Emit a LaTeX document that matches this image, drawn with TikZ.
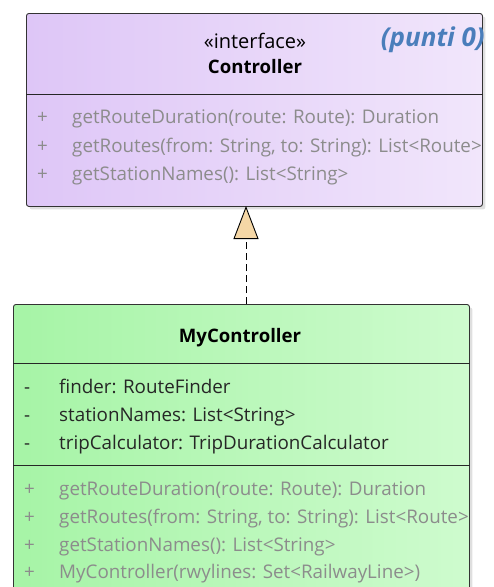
\documentclass[tikz,border=0pt]{standalone}
\usepackage{fontspec}
\setmainfont{Open Sans}
\usetikzlibrary{arrows.meta,shadows}

\definecolor{ifaceL}{HTML}{DEC6F7}
\definecolor{ifaceR}{HTML}{F1E6FB}
\definecolor{classL}{HTML}{A6F4A6}
\definecolor{classR}{HTML}{CEFBCE}
\definecolor{member}{HTML}{8C8C8C}
\definecolor{punti}{HTML}{4A7EBB}
\definecolor{realize}{HTML}{F5D7A6}

\tikzset{
  umlbox/.style={draw=black!80,line width=0.9pt,rounded corners=2.5pt,anchor=north west,
    inner sep=0pt,drop shadow={shadow xshift=3pt,shadow yshift=-3pt,opacity=0.25}},
  txt/.style={inner sep=0pt,anchor=base west,font=\fontsize{18.8}{21}\selectfont},
  vis/.style={txt,text=#1},
  title/.style={inner sep=0pt,font=\fontsize{18.6}{21}\selectfont},
  sep/.style={draw=black!85,line width=0.9pt}
}

\begin{document}
\begin{tikzpicture}[x=1pt,y=-1pt]
\useasboundingbox (0,0) rectangle (494,587);
\clip (0,0) rectangle (494,587);

% interface
\node [umlbox,left color=ifaceL,right color=ifaceR,minimum width=456pt,minimum height=193pt]
  (controller) at (26,13) {};
\node [title,font=\fontsize{20}{22}\selectfont] (stereo) at (255,41) {«interface»};
\node [title,font=\fontsize{18.6}{21}\selectfont\bfseries] (cname) at (255,67) {Controller};
\node [inner sep=0pt,anchor=east,text=punti,font=\fontsize{26}{28}\selectfont\bfseries\itshape]
  (punti) at (485,40) {(punti 0)};
\draw [sep] (controller.west |- 0,94) -- (controller.east |- 0,94);
\node [vis=member] (c1) at (37,123) {+};
\node [vis=member] (m1) at (72,123) {getRouteDuration(route: Route): Duration};
\node [vis=member] (c2) at (37,152) {+};
\node [vis=member] (m2) at (72,152) {getRoutes(from: String, to: String): List<Route>};
\node [vis=member] (c3) at (37,180) {+};
\node [vis=member] (m3) at (72,180) {getStationNames(): List<String>};

% implementing class
\node [umlbox,left color=classL,right color=classR,minimum width=456pt,minimum height=300pt]
  (mycontroller) at (13,304) {};
\node [title,font=\fontsize{18.6}{21}\selectfont\bfseries] (mname) at (240,338) {MyController};
\draw [sep] (mycontroller.west |- 0,363) -- (mycontroller.east |- 0,363);
\node [vis=black!85] (a1v) at (24,393) {-};
\node [vis=black!85] (a1) at (59,393) {finder: RouteFinder};
\node [vis=black!85] (a2v) at (24,421) {-};
\node [vis=black!85] (a2) at (59,421) {stationNames: List<String>};
\node [vis=black!85] (a3v) at (24,449) {-};
\node [vis=black!85] (a3) at (59,449) {tripCalculator: TripDurationCalculator};
\draw [sep] (mycontroller.west |- 0,465) -- (mycontroller.east |- 0,465);
\node [vis=member] (o1v) at (24,495) {+};
\node [vis=member] (o1) at (59,495) {getRouteDuration(route: Route): Duration};
\node [vis=member] (o2v) at (24,523) {+};
\node [vis=member] (o2) at (59,523) {getRoutes(from: String, to: String): List<Route>};
\node [vis=member] (o3v) at (24,551) {+};
\node [vis=member] (o3) at (59,551) {getStationNames(): List<String>};
\node [vis=member] (o4v) at (24,578) {+};
\node [vis=member] (o4) at (59,578) {MyController(rwylines: Set<RailwayLine>)};

% realization
\coordinate (tip) at (246,206);
\coordinate (foot) at (246,304);
\draw [dashed,dash pattern=on 7pt off 4pt,line width=0.9pt,
  -{Triangle[width=25pt,length=33pt,fill=realize,line width=0.9pt]}] (foot) -- (tip);

\end{tikzpicture}
\end{document}
